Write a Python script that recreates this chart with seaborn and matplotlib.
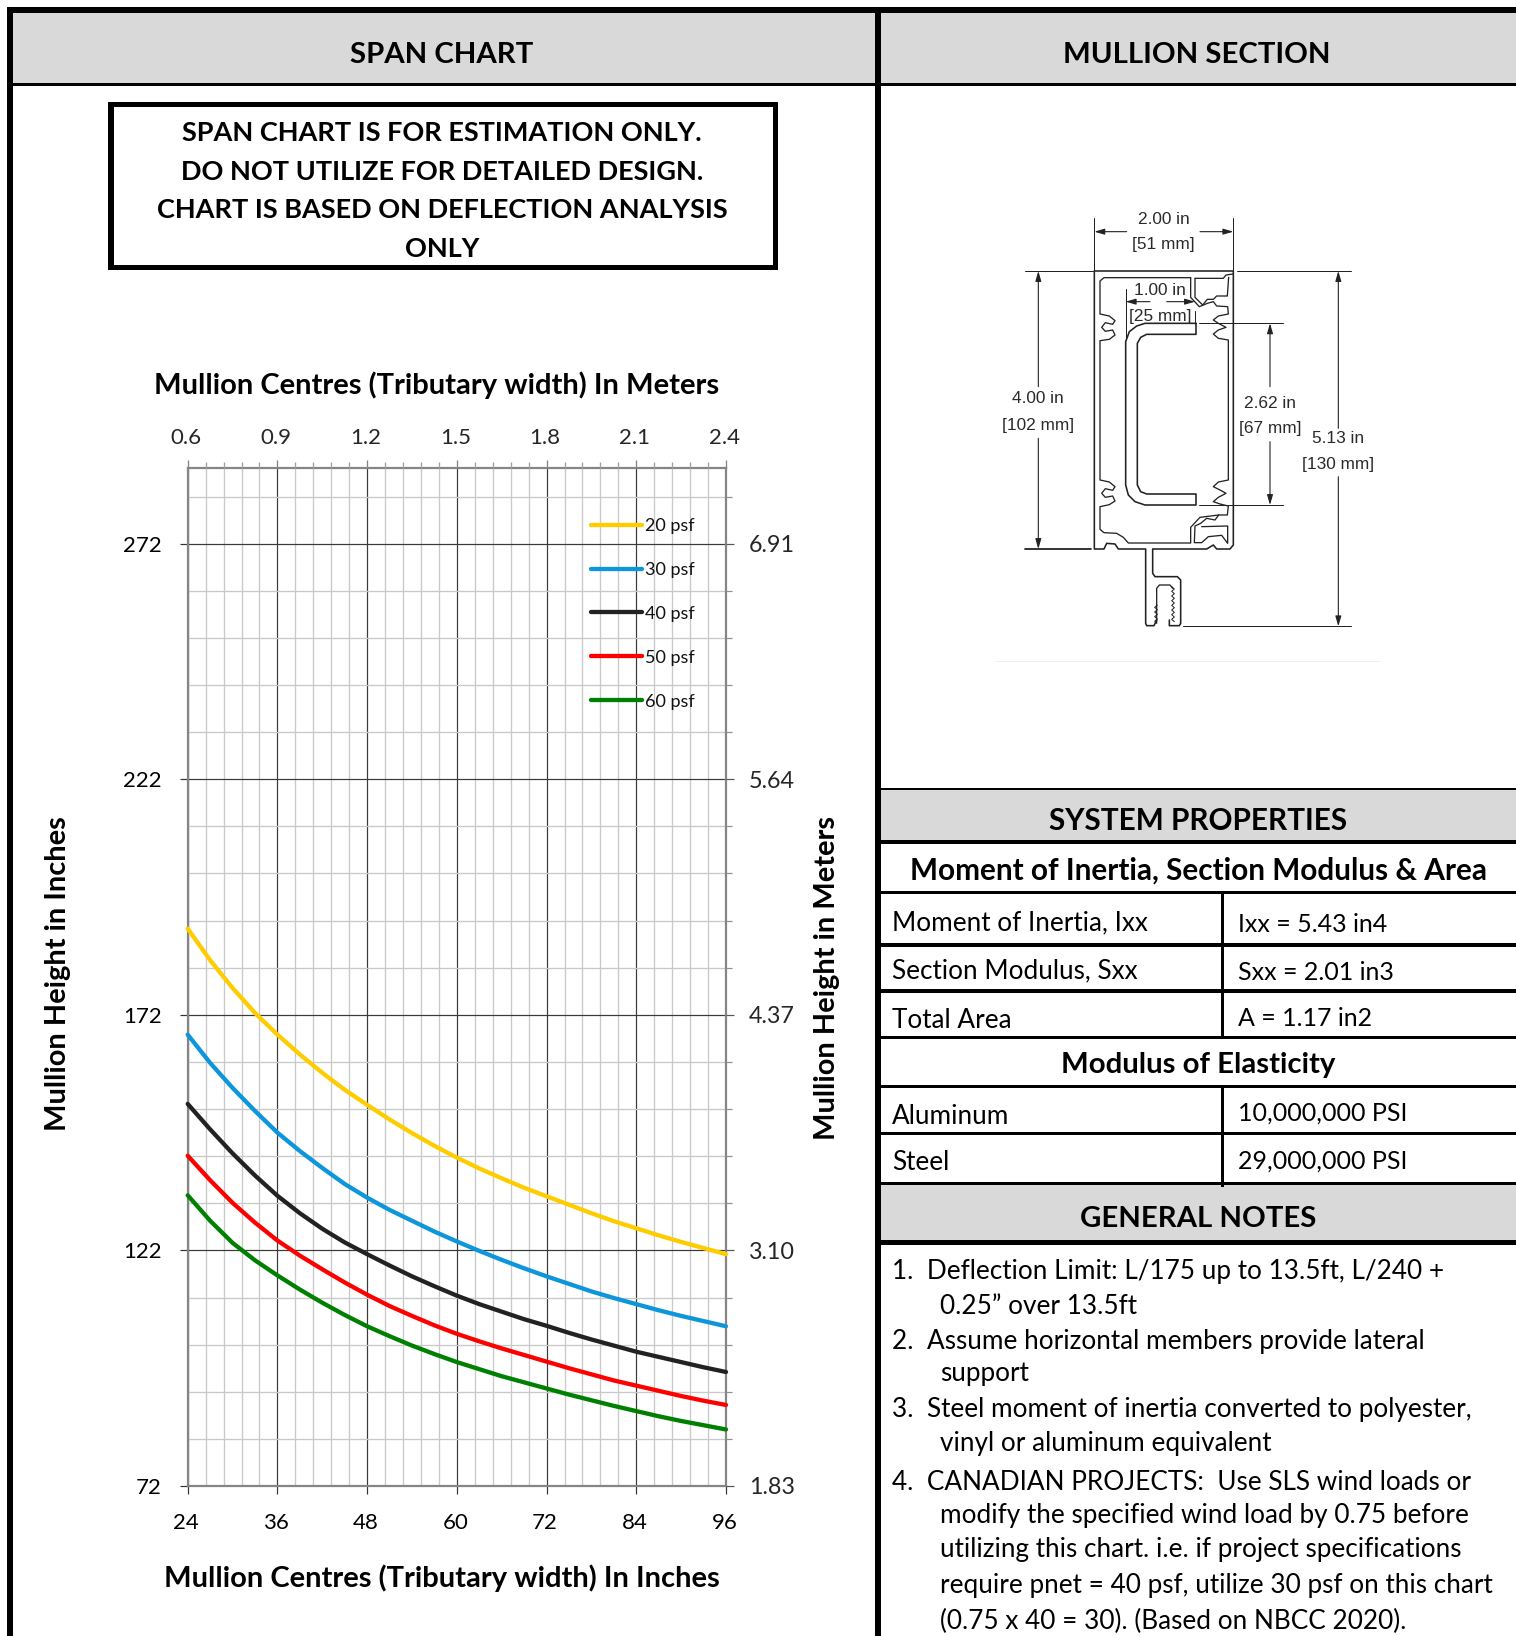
"""Span chart sheet: mullion span curves, section drawing, properties table and notes."""

import matplotlib
matplotlib.use("Agg")
import matplotlib.pyplot as plt
from matplotlib.patches import Rectangle
from matplotlib.ticker import MultipleLocator, NullFormatter
from matplotlib.transforms import ScaledTranslation
import pandas as pd
import seaborn as sns

# ── Data ─────────────────────────────────────────────────────────────────────
WIDTH_IN = [24, 27, 30, 33, 36, 39, 42, 45, 48, 51, 54, 57, 60,
            63, 66, 69, 72, 75, 78, 81, 84, 87, 90, 93, 96]
PSF_20 = [190.3, 183.6, 177.7, 172.4, 167.8, 163.6, 159.7, 156.1, 152.9, 149.8, 146.9, 144.2, 141.7,
          139.4, 137.3, 135.3, 133.5, 131.7, 129.9, 128.2, 126.7, 125.2, 123.8, 122.5, 121.2]
PSF_30 = [167.8, 161.8, 156.5, 151.6, 147.0, 143.1, 139.5, 136.1, 133.2, 130.6, 128.3, 126.0, 123.9,
          121.9, 120.0, 118.2, 116.5, 114.9, 113.3, 111.9, 110.6, 109.3, 108.1, 107.0, 105.9]
PSF_40 = [153.1, 147.7, 142.6, 137.9, 133.6, 129.9, 126.6, 123.7, 121.2, 118.8, 116.5, 114.4, 112.4,
          110.6, 109.0, 107.4, 106.0, 104.5, 103.1, 101.8, 100.5, 99.4, 98.3, 97.2, 96.2]
PSF_50 = [142.1, 136.9, 132.1, 127.9, 124.1, 120.9, 118.0, 115.2, 112.6, 110.2, 108.1, 106.1, 104.3,
          102.7, 101.2, 99.8, 98.4, 97.0, 95.7, 94.4, 93.3, 92.2, 91.1, 90.1, 89.2]
PSF_60 = [133.7, 128.3, 123.6, 119.9, 116.7, 113.7, 110.9, 108.3, 105.9, 103.8, 101.8, 100.0, 98.3,
          96.8, 95.3, 94.0, 92.7, 91.4, 90.2, 89.0, 87.9, 86.8, 85.8, 84.9, 84.0]
SERIES = {"20 psf": PSF_20, "30 psf": PSF_30, "40 psf": PSF_40, "50 psf": PSF_50, "60 psf": PSF_60}
LINE_COLORS = ["#ffcc00", "#0d96dc", "#222222", "#ff0000", "#008000"]

X_TICKS_IN = [24, 36, 48, 60, 72, 84, 96]
X_TICKS_M = ["0.6", "0.9", "1.2", "1.5", "1.8", "2.1", "2.4"]
Y_TICKS_IN = [72, 122, 172, 222, 272]
Y_TICKS_M = ["1.83", "3.10", "4.37", "5.64", "6.91"]

WARNING = ["SPAN CHART IS FOR ESTIMATION ONLY.", "DO NOT UTILIZE FOR DETAILED DESIGN.",
           "CHART IS BASED ON DEFLECTION ANALYSIS", "ONLY"]
NOTES = [("1.  Deflection Limit: L/175 up to 13.5ft, L/240 +", 892, 1271),
         ("0.25\u201d over 13.5ft", 940, 1307),
         ("2.  Assume horizontal members provide lateral", 892, 1341),
         ("support", 940, 1374),
         ("3.  Steel moment of inertia converted to polyester,", 892, 1410),
         ("vinyl or aluminum equivalent", 940, 1444),
         ("4.  CANADIAN PROJECTS:  Use SLS wind loads or", 892, 1483),
         ("modify the specified wind load by 0.75 before", 940, 1515),
         ("utilizing this chart. i.e. if project specifications", 940, 1550),
         ("require pnet = 40 psf, utilize 30 psf on this chart", 940, 1585),
         ("(0.75 x 40 = 30). (Based on NBCC 2020).", 940, 1621)]

W, H = 1516, 1636
PX = 0.72  # one pixel in points at dpi 100

sns.set_theme(style="white")
plt.rcParams["font.family"] = ["Lato", "DejaVu Sans"]

fig = plt.figure(figsize=(W / 100, H / 100), dpi=100, facecolor="white")

# ── Sheet layer, drawn in pixel coordinates ──────────────────────────────────
sheet = fig.add_axes([0, 0, 1, 1])
sheet.set_xlim(0, W)
sheet.set_ylim(H, 0)
sheet.axis("off")


def box(x0, y0, x1, y1, color="black"):
    sheet.add_patch(Rectangle((x0, y0), x1 - x0, y1 - y0, facecolor=color, edgecolor="none"))


def label(x, y, text, size=18.85, weight="normal", ha="center", rot=0):
    sheet.text(x, y, text, fontsize=size, fontweight=weight, ha=ha, va="center",
               rotation=rot, color="black")


# grey bands
box(12, 12, 875, 83, "#d9d9d9")
box(881, 12, W, 83, "#d9d9d9")
box(880, 789, W, 840, "#d9d9d9")
box(880, 1185, W, 1240, "#d9d9d9")

# frame and rules
box(7, 7, W, 12.5)
box(7, 7, 12.5, H)
box(875, 7, 880.5, H)
box(12, 83, W, 85.5)
box(880, 788, W, 789.5)
for y0, y1 in [(840, 844), (891, 894), (943, 947), (989, 993), (1036, 1039),
               (1085, 1088), (1132, 1135), (1182, 1185), (1240, 1245)]:
    box(880, y0, W, y1)
box(1221, 891, 1224, 1039)
box(1221, 1085, 1224, 1187)

# warning box
box(108, 102, 778, 107)
box(108, 265, 778, 270)
box(108, 102, 113.5, 270)
box(773, 102, 778, 270)
for y, line in zip([133, 172, 210, 249], WARNING):
    label(442, y, line, size=19.5, weight="bold")

label(442, 55, "SPAN CHART", size=21.2, weight="bold")
label(1197, 55, "MULLION SECTION", size=21.2, weight="bold")
label(1198, 821, "SYSTEM PROPERTIES", size=21.4, weight="bold")
label(1198, 871, "Moment of Inertia, Section Modulus & Area", size=21.4, weight="bold")
label(1198, 1065, "Modulus of Elasticity", size=21.2, weight="bold")
label(1198, 1219, "GENERAL NOTES", size=21.2, weight="bold")

for text, y in [("Moment of Inertia, Ixx", 923), ("Section Modulus, Sxx", 971), ("Total Area", 1020),
                ("Aluminum", 1116), ("Steel", 1163)]:
    label(892, y, text, ha="left")
for text, y in [("Ixx = 5.43 in4", 924), ("Sxx = 2.01 in3", 973), ("A = 1.17 in2", 1019),
                ("10,000,000 PSI", 1113), ("29,000,000 PSI", 1161)]:
    label(1238, y, text, size=18, ha="left")
for text, x, y in NOTES:
    label(x, y, text, ha="left")

# chart titles sit on the sheet too
label(437, 385, "Mullion Centres (Tributary width) In Meters", size=21, weight="bold")
label(442, 1578, "Mullion Centres (Tributary width) In Inches", size=21, weight="bold")
label(58, 974, "Mullion Height in Inches", size=20.9, weight="bold", rot=90)
label(827, 978, "Mullion Height in Meters", size=20.9, weight="bold", rot=90)

# ── Span chart ───────────────────────────────────────────────────────────────
df = pd.DataFrame({"width": WIDTH_IN * len(SERIES),
                   "height": sum(SERIES.values(), []),
                   "load": [name for name in SERIES for _ in WIDTH_IN]})

ax = fig.add_axes([187.7 / W, 1 - 1486 / H, 538.3 / W, 1017.7 / H])
ax.patch.set_alpha(0)
sns.lineplot(data=df, x="width", y="height", hue="load", palette=LINE_COLORS, ax=ax,
             linewidth=4.3 * PX, solid_capstyle="round", errorbar=None, zorder=5, clip_on=False)
ax.set_xlim(24, 96)
ax.set_ylim(72, 288)
ax.set_xlabel("")
ax.set_ylabel("")

ax.set_xticks(X_TICKS_IN)
ax.xaxis.set_minor_locator(MultipleLocator(2.4))
ax.set_yticks(Y_TICKS_IN)
ax.yaxis.set_minor_locator(MultipleLocator(10, offset=2))
ax.set_axisbelow(True)
ax.grid(which="minor", color="#c9c9c9", linewidth=1.3 * PX)
ax.grid(which="major", color="#3a3a3a", linewidth=1.2 * PX)
ax.tick_params(axis="both", which="minor", length=0)
ax.tick_params(axis="both", which="major", length=8 * PX, width=1.2 * PX, color="#333333",
               labelsize=16, labelcolor="black")
ax.tick_params(axis="x", pad=19 * PX)
ax.tick_params(axis="y", pad=18 * PX)
for spine in ax.spines.values():
    spine.set_visible(True)
    spine.set_color("#858585")
    spine.set_linewidth(2.2 * PX)

# top axis in metres
top = ax.twiny()
top.set_xlim(24, 96)
top.set_xticks(X_TICKS_IN, X_TICKS_M)
top.xaxis.set_minor_locator(MultipleLocator(2.4))
top.xaxis.set_minor_formatter(NullFormatter())
top.tick_params(axis="x", which="major", length=8 * PX, width=1.3 * PX, color="#858585",
                labelsize=16, pad=12 * PX)
top.tick_params(axis="x", which="minor", length=6 * PX, width=1.3 * PX, color="#a0a0a0")
top.grid(False)

# right axis in metres
right = ax.twinx()
right.set_ylim(72, 288)
right.set_yticks(Y_TICKS_IN, Y_TICKS_M)
right.yaxis.set_minor_locator(MultipleLocator(10, offset=2))
right.yaxis.set_minor_formatter(NullFormatter())
right.tick_params(axis="y", which="major", length=8 * PX, width=1.2 * PX, color="#555555",
                  labelsize=16.8, pad=15 * PX)
right.tick_params(axis="y", which="minor", length=6 * PX, width=1.2 * PX, color="#909090")
right.grid(False)
for extra in (top, right):
    extra.patch.set_alpha(0)
    for spine in extra.spines.values():
        spine.set_visible(False)

# the x labels sit a little left of their ticks in the original
nudge = ScaledTranslation(-1.5 / 100, 0, fig.dpi_scale_trans)
for lab in ax.get_xticklabels() + top.get_xticklabels():
    lab.set_transform(lab.get_transform() + nudge)

handles, names = ax.get_legend_handles_labels()
ax.get_legend().remove()
leg = right.legend(handles, names, loc="upper left", frameon=False, fontsize=13,
                   handlelength=2.8, handletextpad=0.17, labelspacing=1.545,
                   borderaxespad=0, borderpad=0,
                   bbox_to_anchor=(591 / W, 1 - 518 / H), bbox_transform=fig.transFigure)
for text in leg.get_texts():
    text.set_color("#111111")

# ── Mullion section drawing, coordinates follow a 3x grid of the panel ───────
sec = fig.add_axes([950 / W, 1 - 670 / H, 450 / W, 480 / H])
sec.set_xlim(0, 1350)
sec.set_ylim(1440, 0)
sec.axis("off")
INK = "#222222"


def draw(points, lw=1.3):
    xs, ys = zip(*points)
    sec.plot(xs, ys, color=INK, lw=lw * PX, solid_joinstyle="round", solid_capstyle="round")


def dim(x0, y0, x1, y1):
    sec.annotate("", xy=(x1, y1), xytext=(x0, y0),
                 arrowprops=dict(arrowstyle="-|>,head_length=0.55,head_width=0.16", color="#222222",
                                 lw=0.8, shrinkA=0, shrinkB=0, mutation_scale=11))


def note(x, y, text):
    sec.text(x, y + 3, text, fontsize=12.4, family="Liberation Sans", color="#2a2a2a",
             ha="center", va="center")


# outer shell
draw([(433, 243), (850, 243), (850, 1065), (840, 1077), (800, 1077), (790, 1065), (770, 1077),
      (608, 1077), (608, 1150), (615, 1160), (682, 1160), (692, 1170), (692, 1300), (688, 1307),
      (658, 1307), (658, 1290)], lw=1.6)
draw([(433, 243), (433, 1077), (462, 1077), (470, 1060), (495, 1062), (505, 1077), (587, 1077),
      (587, 1300), (590, 1307), (612, 1307), (620, 1290)], lw=1.6)

# left chamber wall with its screw grooves
draw([(722, 263), (462, 263), (450, 273), (450, 372), (478, 378), (495, 392), (488, 403), (466, 398),
      (455, 412), (466, 424), (488, 420), (495, 435), (478, 448), (450, 452), (450, 870), (478, 876),
      (495, 890), (488, 901), (466, 896), (455, 910), (466, 922), (488, 918), (495, 933), (478, 944),
      (450, 950), (450, 1018), (462, 1028), (500, 1030), (520, 1042), (535, 1059), (722, 1059),
      (722, 1012), (750, 982), (806, 975), (795, 990), (770, 985), (752, 1000), (735, 1008),
      (733, 1058), (755, 1058), (775, 1040), (815, 1036), (833, 1060), (833, 1008), (755, 1010)])
draw([(722, 263), (722, 322), (748, 350), (772, 340), (790, 335), (800, 348), (833, 350), (835, 372),
      (805, 378), (790, 390), (805, 400), (828, 412), (805, 420), (790, 432), (805, 445), (835, 450),
      (835, 870), (805, 876), (790, 890), (810, 900), (828, 910), (805, 922), (790, 935), (810, 942),
      (835, 948), (832, 975), (806, 975)])

# top right pocket
draw([(735, 265), (820, 265), (828, 255), (850, 252)])
draw([(735, 265), (735, 322), (758, 345), (772, 328), (790, 328), (800, 318), (832, 318), (836, 262)])

# C-shaped steel
draw([(738, 400), (585, 400), (560, 408), (538, 425), (527, 455), (527, 885), (535, 915), (555, 935),
      (585, 945), (738, 945), (738, 912), (590, 912), (572, 905), (562, 885), (562, 460), (572, 442),
      (590, 433), (738, 433), (738, 400)], lw=1.6)

# bottom fin slot with thread
draw([(620, 1300), (620, 1195), (628, 1185), (660, 1185), (668, 1195)])
for x_base, sign in [(622, -1), (665, 1)]:
    y_top = 1190 if sign > 0 else 1245
    pts = [(x_base + sign * (i % 2) * 8, y_top + i * 7) for i in range((1305 - y_top) // 7)]
    draw(pts, lw=1.0)

# dimensions
draw([(433, 85), (433, 243)], 1.0)
draw([(850, 85), (850, 243)], 1.0)
dim(530, 125, 433, 125)
dim(750, 125, 850, 125)
note(641, 87, "2.00 in")
note(641, 162, "[51 mm]")

draw([(225, 243), (428, 243)], 1.0)
draw([(225, 1077), (423, 1077)], 1.8)
dim(265, 590, 265, 243)
dim(265, 745, 265, 1077)
note(265, 623, "4.00 in")
note(263, 703, "[102 mm]")

draw([(860, 243), (1203, 243)], 1.0)
draw([(700, 1309), (1203, 1309)], 1.0)
dim(1165, 715, 1165, 243)
dim(1165, 860, 1165, 1309)
note(1165, 743, "5.13 in")
note(1165, 820, "[130 mm]")

draw([(748, 400), (1000, 400)], 1.0)
draw([(748, 945), (1000, 945)], 1.0)
dim(960, 590, 960, 400)
dim(960, 755, 960, 945)
note(960, 636, "2.62 in")
note(960, 713, "[67 mm]")

draw([(527, 297), (527, 450)], 1.0)
draw([(735, 362), (735, 395)], 1.0)
dim(600, 335, 527, 335)
dim(650, 335, 735, 335)
note(631, 298, "1.00 in")
note(631, 375, "[25 mm]")

sec.plot([135, 1290], [1412, 1412], color="#efefef", lw=1 * PX)

fig.savefig("out.png", dpi=100)
